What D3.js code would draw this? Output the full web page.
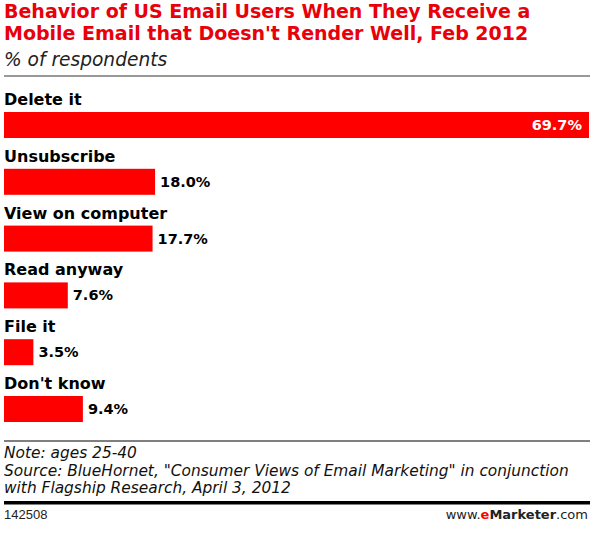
<!DOCTYPE html>
<html>
<head>
<meta charset="utf-8">
<script src="https://cdn.jsdelivr.net/npm/d3@7"></script>
<style>
  body { margin: 0; background: #fff; }
  svg { display: block; }
</style>
</head>
<body>
<div id="chart"></div>
<script>
// data
var categories = ["Delete it", "Unsubscribe", "View on computer", "Read anyway", "File it", "Don't know"];
var values = [69.7, 18.0, 17.7, 7.6, 3.5, 9.4];

var titleLines = ["Behavior of US Email Users When They Receive a",
                  "Mobile Email that Doesn't Render Well, Feb 2012"];
var subtitle = "% of respondents";
var noteLines = ["Note: ages 25-40",
                 "Source: BlueHornet, \"Consumer Views of Email Marketing\" in conjunction",
                 "with Flagship Research, April 3, 2012"];
var chartId = "142508";

var width = 595, height = 536;
var red = "#ff0000";
var titleRed = "#e8000b";
var heavy = "'DejaVu Sans', sans-serif";
var plain = "'Liberation Sans', Arial, sans-serif";

var svg = d3.select("#chart").append("svg")
    .attr("width", width)
    .attr("height", height);

// title
svg.selectAll("text.title")
  .data(titleLines)
  .enter().append("text")
    .attr("class", "title")
    .attr("x", 4)
    .attr("y", function(d, i) { return 18 + i * 22; })
    .style("font-family", heavy)
    .style("font-weight", "bold")
    .style("font-size", "19px")
    .style("fill", titleRed)
    .text(function(d) { return d; });

svg.append("text")
    .attr("x", 4)
    .attr("y", 66)
    .style("font-family", heavy)
    .style("font-style", "italic")
    .style("font-size", "18.6px")
    .style("fill", "#222")
    .text(subtitle);

svg.append("line")
    .attr("x1", 4).attr("x2", 590)
    .attr("y1", 76).attr("y2", 76)
    .style("stroke", "#777")
    .style("stroke-width", 1.5);

// scales
var x = d3.scaleLinear()
    .domain([0, d3.max(values)])
    .range([4, 589]);

var pad = 30.8 / 56.8;
var y = d3.scaleBand()
    .domain(categories)
    .range([112, 112 + 56.8 * (categories.length + pad)])
    .paddingInner(pad)
    .paddingOuter(pad)
    .align(0);

var rows = svg.append("g").selectAll("g")
    .data(categories)
  .enter().append("g");

rows.append("text")
    .attr("x", 4)
    .attr("y", function(d) { return y(d) - 7; })
    .style("font-family", heavy)
    .style("font-weight", "bold")
    .style("font-size", "16px")
    .style("fill", "#000")
    .text(function(d) { return d; });

rows.append("rect")
    .attr("x", x(0))
    .attr("y", function(d) { return y(d); })
    .attr("width", function(d, i) { return x(values[i]) - x(0); })
    .attr("height", y.bandwidth())
    .style("fill", red);

rows.append("text")
    .attr("x", function(d, i) { return i == 0 ? x(values[i]) - 7 : x(values[i]) + 5; })
    .attr("y", function(d) { return y(d) + y.bandwidth() / 2 + 5; })
    .attr("text-anchor", function(d, i) { return i == 0 ? "end" : "start"; })
    .style("font-family", heavy)
    .style("font-weight", "bold")
    .style("font-size", "14.5px")
    .style("fill", function(d, i) { return i == 0 ? "#fff" : "#000"; })
    .text(function(d, i) { return values[i].toFixed(1) + "%"; });

// footer
svg.append("line")
    .attr("x1", 4).attr("x2", 590)
    .attr("y1", 441).attr("y2", 441)
    .style("stroke", "#000")
    .style("stroke-width", 1);

svg.selectAll("text.note")
  .data(noteLines)
  .enter().append("text")
    .attr("class", "note")
    .attr("x", 4)
    .attr("y", function(d, i) { return 458 + i * 17.5; })
    .style("font-family", heavy)
    .style("font-style", "italic")
    .style("font-size", "15.4px")
    .style("fill", "#111")
    .text(function(d) { return d; });

svg.append("rect")
    .attr("x", 4).attr("y", 501)
    .attr("width", 586).attr("height", 3.5)
    .style("fill", "#000");

svg.append("text")
    .attr("x", 4)
    .attr("y", 519)
    .style("font-family", plain)
    .style("font-size", "13px")
    .style("fill", "#222")
    .text(chartId);

var brand = svg.append("text")
    .attr("x", 588)
    .attr("y", 519)
    .attr("text-anchor", "end")
    .style("font-family", heavy)
    .style("font-size", "13px")
    .style("fill", "#222");
brand.append("tspan").text("www.");
brand.append("tspan").style("fill", red).style("font-weight", "bold").text("e");
brand.append("tspan").style("font-weight", "bold").text("Marketer");
brand.append("tspan").text(".com");
</script>
</body>
</html>
